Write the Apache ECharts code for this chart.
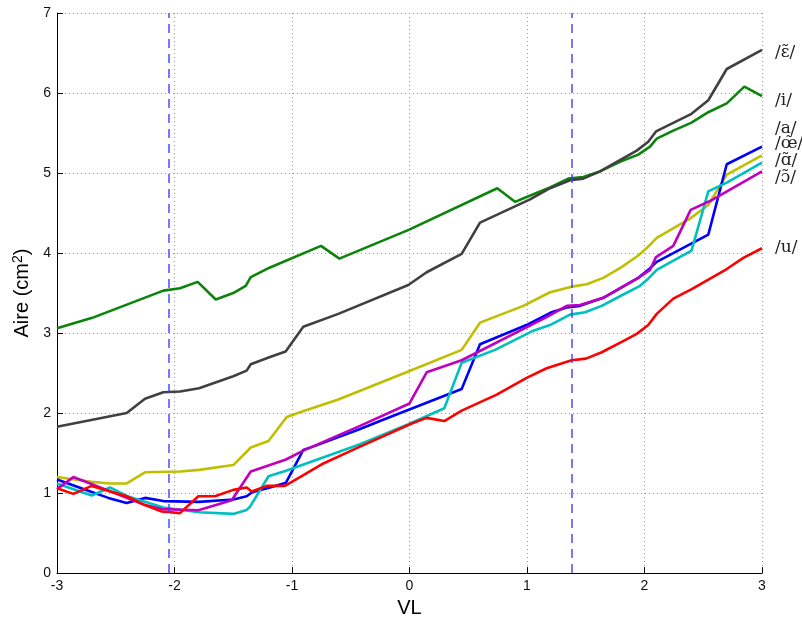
<!DOCTYPE html>
<html>
<head>
<meta charset="utf-8">
<script src="https://cdn.jsdelivr.net/npm/echarts@6/dist/echarts.min.js"></script>
<style>html,body{margin:0;padding:0;background:#fff}#c{width:802px;height:623px}</style>
</head>
<body>
<div id="c"></div>
<script>
// ---- data ----
const xTicks = [-3, -2, -1, 0, 1, 2, 3];
const yTicks = [0, 1, 2, 3, 4, 5, 6, 7];
const refLines = [-2.05, 1.38];

const iX = [-3, -2.70, -2.095, -1.953, -1.803, -1.649, -1.50, -1.394, -1.351, -1.187, -0.753, -0.597, -0.007, 0.747, 0.898, 0.997, 1.196, 1.351, 1.479, 1.621, 1.791, 1.947, 2.047, 2.104, 2.245, 2.40, 2.543, 2.70, 2.85, 3.0];
const iY = [3.06, 3.19, 3.53, 3.56, 3.64, 3.42, 3.50, 3.59, 3.70, 3.82, 4.09, 3.93, 4.29, 4.81, 4.64, 4.70, 4.82, 4.93, 4.95, 5.02, 5.14, 5.23, 5.33, 5.43, 5.53, 5.63, 5.76, 5.87, 6.08, 5.96];

const eX = [-3, -2.407, -2.251, -2.095, -1.953, -1.791, -1.50, -1.386, -1.351, -1.187, -1.054, -0.904, -0.606, -0.010, 0.146, 0.444, 0.60, 1.026, 1.196, 1.366, 1.479, 1.621, 1.934, 2.032, 2.098, 2.40, 2.543, 2.70, 3.0];
const eY = [1.83, 2.00, 2.18, 2.26, 2.27, 2.31, 2.46, 2.53, 2.61, 2.70, 2.77, 3.08, 3.24, 3.60, 3.76, 3.99, 4.38, 4.67, 4.81, 4.91, 4.93, 5.02, 5.28, 5.39, 5.52, 5.74, 5.91, 6.30, 6.54];

const yelX = [-3, -2.705, -2.549, -2.407, -2.251, -1.953, -1.791, -1.50, -1.351, -1.20, -1.045, -0.932, -0.606, -0.010, 0.444, 0.60, 0.969, 1.196, 1.38, 1.508, 1.649, 1.791, 1.947, 2.032, 2.104, 2.387, 2.543, 2.70, 3.0];
const yelY = [1.20, 1.14, 1.12, 1.12, 1.26, 1.27, 1.29, 1.35, 1.57, 1.65, 1.95, 2.01, 2.17, 2.52, 2.79, 3.13, 3.34, 3.51, 3.58, 3.61, 3.69, 3.81, 3.97, 4.08, 4.19, 4.43, 4.60, 4.98, 5.22];

const bX = [-3, -2.734, -2.563, -2.407, -2.251, -2.095, -1.791, -1.50, -1.386, -1.340, -1.187, -1.051, -0.904, -0.804, -0.421, -0.251, 0.444, 0.60, 1.011, 1.21, 1.338, 1.451, 1.649, 1.947, 2.032, 2.104, 2.543, 2.70, 3.0];
const bY = [1.17, 1.03, 0.94, 0.875, 0.94, 0.90, 0.89, 0.92, 0.96, 1.01, 1.07, 1.13, 1.54, 1.59, 1.80, 1.90, 2.30, 2.86, 3.11, 3.26, 3.32, 3.34, 3.44, 3.69, 3.79, 3.89, 4.23, 5.11, 5.33];

const mX = [-3, -2.861, -2.734, -2.407, -2.251, -2.109, -1.797, -1.513, -1.351, -1.051, -0.904, -0.421, 0.0, 0.146, 0.444, 1.167, 1.338, 1.451, 1.649, 1.947, 2.047, 2.098, 2.245, 2.393, 2.557, 3.0];
const mY = [1.05, 1.20, 1.13, 0.94, 0.85, 0.80, 0.785, 0.91, 1.27, 1.42, 1.53, 1.84, 2.12, 2.51, 2.66, 3.20, 3.34, 3.35, 3.44, 3.69, 3.79, 3.95, 4.09, 4.54, 4.65, 5.02];

const cX = [-3, -2.705, -2.549, -2.407, -2.095, -1.791, -1.50, -1.386, -1.357, -1.20, -1.051, -0.421, -0.010, 0.296, 0.444, 0.728, 1.054, 1.196, 1.366, 1.494, 1.636, 1.791, 1.962, 2.032, 2.104, 2.40, 2.543, 2.70, 3.0];
const cY = [1.12, 0.97, 1.07, 0.965, 0.82, 0.76, 0.74, 0.79, 0.83, 1.21, 1.28, 1.61, 1.86, 2.06, 2.63, 2.79, 3.03, 3.10, 3.23, 3.26, 3.34, 3.46, 3.59, 3.68, 3.79, 4.03, 4.77, 4.88, 5.13];

const uX = [-3, -2.861, -2.705, -2.407, -2.251, -2.109, -1.953, -1.797, -1.655, -1.50, -1.386, -1.343, -1.215, -1.06, -0.747, -0.421, 0.019, 0.146, 0.296, 0.444, 0.742, 0.997, 1.167, 1.38, 1.502, 1.636, 1.806, 1.934, 2.032, 2.104, 2.245, 2.402, 2.70, 2.841, 3.0];
const uY = [1.06, 0.99, 1.09, 0.96, 0.85, 0.77, 0.75, 0.96, 0.96, 1.04, 1.07, 1.02, 1.09, 1.09, 1.36, 1.58, 1.87, 1.94, 1.90, 2.03, 2.23, 2.44, 2.56, 2.66, 2.68, 2.76, 2.89, 2.99, 3.10, 3.24, 3.43, 3.55, 3.80, 3.94, 4.06];

const seriesDefs = [
  {name: '/i/', xs: iX, ys: iY, color: '#0b840b'},
  {name: '/ɛ̃/', xs: eX, ys: eY, color: '#404040'},
  {name: '/a/', xs: yelX, ys: yelY, color: '#bfbf00'},
  {name: '/œ̃/', xs: bX, ys: bY, color: '#0000ff'},
  {name: '/ɑ̃/', xs: cX, ys: cY, color: '#00bfbf'},
  {name: '/ɔ̃/', xs: mX, ys: mY, color: '#bf00bf'},
  {name: '/u/', xs: uX, ys: uY, color: '#ff0000'}
];
const labelTexts = ['/ɛ̃/', '/i/', '/a/', '/œ̃/', '/ɑ̃/', '/ɔ̃/', '/u/'];
const labelYVals = [6.48, 5.87, 5.52, 5.34, 5.13, 4.91, 4.04];

// ---- chart ----
const chart = echarts.init(document.getElementById('c'), null, {renderer: 'canvas'});
const series = seriesDefs.map(d => ({
  type: 'line', name: d.name, showSymbol: false, symbol: 'none',
  data: d.xs.map((x, k) => [x, d.ys[k]]),
  lineStyle: {color: d.color, width: 2.6}, itemStyle: {color: d.color},
  animation: false, z: 3
}));
series.push({
  type: 'line', data: [], silent: true,
  markLine: {
    symbol: 'none', silent: true, label: {show: false},
    lineStyle: {color: '#3a3aff', type: [9, 6], width: 1.6, opacity: 0.85},
    data: refLines.map(v => ({xAxis: v}))
  },
  animation: false, z: 2
});

const tickFont = {fontFamily: 'Liberation Sans, Arial, sans-serif', fontSize: 14, color: '#111'};
chart.setOption({
  animation: false,
  grid: {left: 57, right: 40, top: 13, bottom: 42},
  xAxis: {
    type: 'value', min: -3, max: 3, interval: 1,
    name: 'VL', nameLocation: 'middle', nameGap: 21,
    nameTextStyle: {fontFamily: 'Liberation Sans, Arial, sans-serif', fontSize: 20, color: '#000'},
    axisLine: {onZero: false, lineStyle: {color: '#000', width: 1}},
    axisTick: {inside: true, length: 6, lineStyle: {color: '#000'}},
    axisLabel: Object.assign({margin: 6, formatter: v => xTicks.includes(v) ? String(v) : ''}, tickFont),
    splitLine: {show: true, lineStyle: {color: '#999', type: [1, 3], width: 1}}
  },
  yAxis: {
    type: 'value', min: 0, max: 7, interval: 1,
    name: 'Aire (cm{sup|2})', nameLocation: 'middle', nameGap: 13, nameRotate: 90,
    nameTextStyle: {fontFamily: 'Liberation Sans, Arial, sans-serif', fontSize: 20, color: '#000',
      rich: {sup: {fontSize: 14, verticalAlign: 'bottom', padding: [0, 0, 9, 0], fontFamily: 'Liberation Sans, Arial, sans-serif', color: '#000'}}},
    axisLine: {show: true, onZero: false, lineStyle: {color: '#000', width: 1}},
    axisTick: {show: true, inside: true, length: 6, lineStyle: {color: '#000'}},
    axisLabel: Object.assign({margin: 6, formatter: v => yTicks.includes(v) ? String(v) : ''}, tickFont),
    splitLine: {show: true, lineStyle: {color: '#999', type: [1, 3], width: 1}}
  },
  series: series
});

// right-side labels
const graphics = labelTexts.map((t, k) => {
  const p = chart.convertToPixel({gridIndex: 0}, [3, labelYVals[k]]);
  return {
    type: 'text', left: p[0] + 13, top: p[1] - 11,
    style: {text: t, font: '17px "DejaVu Serif", serif', fill: '#222'}
  };
});
chart.setOption({graphic: graphics});
</script>
</body>
</html>
